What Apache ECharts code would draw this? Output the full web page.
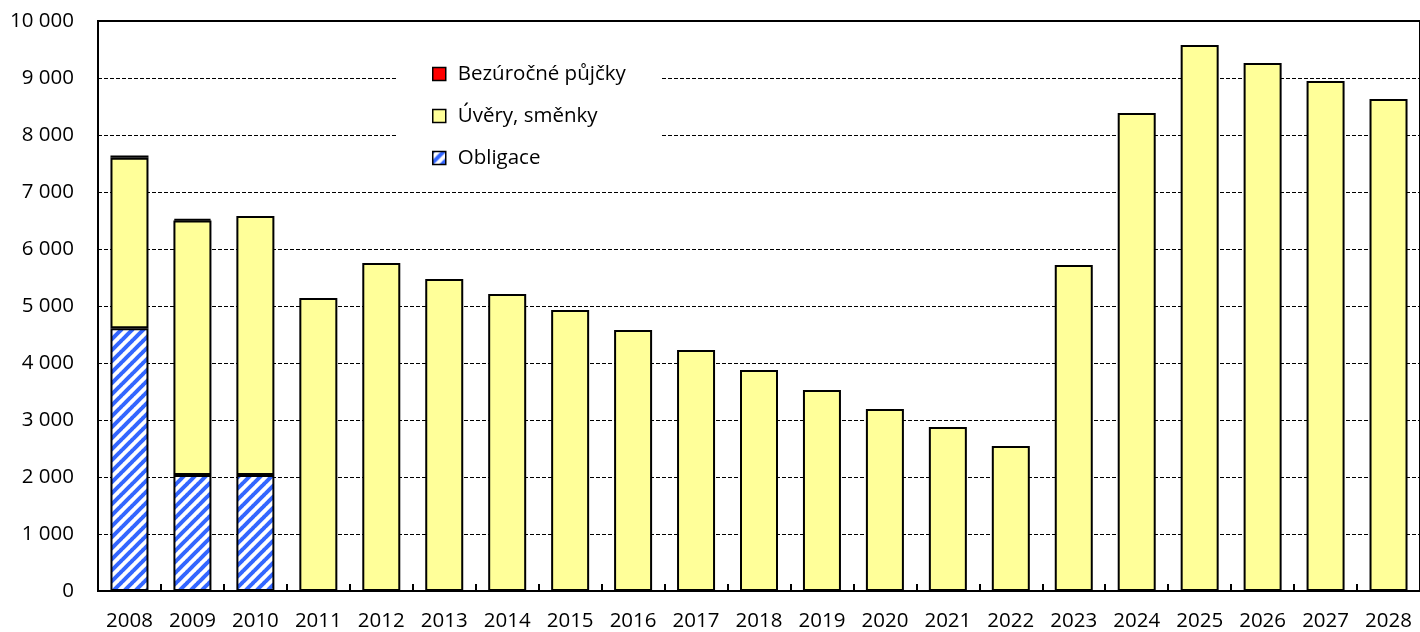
<!DOCTYPE html>
<html><head><meta charset="utf-8">
<script src="https://cdn.jsdelivr.net/npm/echarts@6/dist/echarts.min.js"></script>
<style>html,body{margin:0;padding:0;background:#fff}#c{width:1420px;height:632px}</style>
</head><body><div id="c"></div>
<script>
const years = ['2008','2009','2010','2011','2012','2013','2014','2015','2016','2017','2018','2019','2020','2021','2022','2023','2024','2025','2026','2027','2028'];
const obligace = [4610,2035,2035,null,null,null,null,null,null,null,null,null,null,null,null,null,null,null,null,null,null];
const uvery = [2990,4465,4545,5140,5754,5474,5211,4930,4579,4228,3877,3526,3193,2877,2544,5719,8386,9579,9263,8947,8632];
const bezurocne = [40,30,null,null,null,null,null,null,null,null,null,null,null,null,null,null,null,null,null,null,null];
const seriesNames = ['Bezúročné půjčky','Úvěry, směnky','Obligace'];

const FONT = 'Open Sans';
function hatch(){
  const s = 11, c = document.createElement('canvas');
  c.width = s; c.height = s;
  const g = c.getContext('2d');
  g.fillStyle = '#ffffff'; g.fillRect(0,0,s,s);
  g.strokeStyle = '#3366ff'; g.lineWidth = 4;
  [-s,0,s].forEach(dx=>{
    g.beginPath(); g.moveTo(dx-1, s+1); g.lineTo(dx+s+1, -1); g.stroke();
  });
  return {image: c, repeat: 'repeat'};
}
const chart = echarts.init(document.getElementById('c'), null, {renderer:'canvas'});
const border = {borderColor:'#000', borderWidth:2};
chart.setOption({
  animation:false,
  backgroundColor:'#fff',
  textStyle:{fontFamily:FONT},
  grid:{left:98, right:-2, top:21, bottom:41, show:true, borderColor:'#000', borderWidth:2, backgroundColor:'transparent'},
  legend:{
    orient:'vertical', left:398, top:53,
    backgroundColor:'#fff',
    padding:[10,36,10,34],
    icon:'rect',
    itemWidth:13, itemHeight:13, itemGap:20,
    data:seriesNames,
    textStyle:{fontFamily:FONT, fontSize:20.5, color:'#000', padding:[0,0,0,7], lineHeight:22},
    itemStyle:{borderColor:'#000', borderWidth:1.5}
  },
  xAxis:{
    type:'category', data:years,
    axisLine:{show:true, onZero:false, lineStyle:{color:'#000', width:2}},
    axisTick:{show:true, inside:true, length:7, interval:0, lineStyle:{color:'#000', width:2}},
    axisLabel:{color:'#000', fontSize:20.5, fontFamily:FONT, margin:20, interval:0}
  },
  yAxis:{
    type:'value', min:0, max:10000, interval:1000,
    axisLine:{show:true, lineStyle:{color:'#000', width:2}},
    axisTick:{show:false},
    splitLine:{lineStyle:{color:'#000', width:1, type:[4,2]}},
    axisLabel:{color:'#000', fontSize:20.5, fontFamily:FONT, margin:24,
      formatter:v=>String(v).replace(/\B(?=(\d{3})+(?!\d))/g,' ')}
  },
  series:[
    {name:seriesNames[2], type:'bar', stack:'a', data:obligace, barWidth:38,
     itemStyle:Object.assign({color:hatch()}, border)},
    {name:seriesNames[1], type:'bar', stack:'a', data:uvery, barWidth:38,
     itemStyle:Object.assign({color:'#ffff99'}, border)},
    {name:seriesNames[0], type:'bar', stack:'a', data:bezurocne, barWidth:38,
     itemStyle:Object.assign({color:'#ff0000'}, border)}
  ]
});
</script></body></html>
